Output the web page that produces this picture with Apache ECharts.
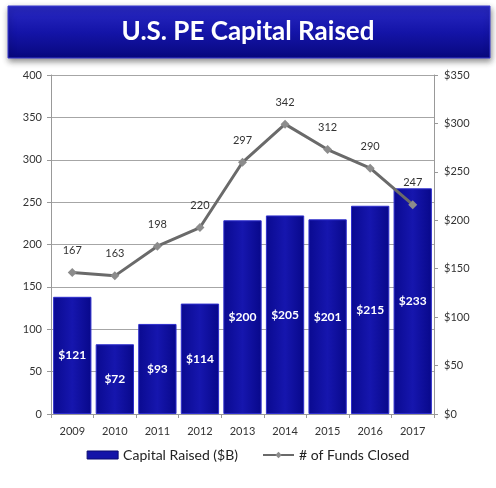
<!DOCTYPE html>
<html>
<head>
<meta charset="utf-8">
<script src="https://cdn.jsdelivr.net/npm/echarts@6/dist/echarts.min.js"></script>
<style>html,body{margin:0;padding:0;background:#fff;}#c{width:496px;height:488px;}</style>
</head>
<body>
<div id="c"></div>
<script>
const years = ['2009','2010','2011','2012','2013','2014','2015','2016','2017'];
const capitalRaised = [121, 72, 93, 114, 200, 205, 201, 215, 233];
const fundsClosed = [167, 163, 198, 220, 297, 342, 312, 290, 247];
const titleText = 'U.S. PE Capital Raised';
const seriesNames = ['Capital Raised ($B)', '# of Funds Closed'];

const chart = echarts.init(document.getElementById('c'));
const font = 'Lato, "Open Sans", sans-serif';
chart.setOption({
  animation: false,
  backgroundColor: '#fff',
  textStyle: { fontFamily: font },
  title: {
    text: titleText,
    left: 'center',
    top: 14,
    textStyle: { color: '#fff', fontSize: 26, fontWeight: 'bold', fontFamily: font }
  },
  graphic: [{
    type: 'rect',
    z: -1,
    shape: { x: 8, y: 6, width: 482, height: 52 },
    style: {
      fill: new echarts.graphic.LinearGradient(0, 0, 0, 1, [
        { offset: 0, color: '#2a2ac4' },
        { offset: 0.5, color: '#1414a8' },
        { offset: 1, color: '#08087e' }
      ]),
      stroke: '#3a3ad0',
      lineWidth: 1,
      shadowBlur: 6,
      shadowOffsetY: 3,
      shadowOffsetX: 1,
      shadowColor: 'rgba(0,0,0,0.45)'
    }
  }],
  legend: {
    bottom: 21,
    left: 'center',
    itemGap: 24,
    textStyle: { fontSize: 14, color: '#222', fontFamily: font },
    data: [
      { name: seriesNames[0], icon: 'rect', itemStyle: { color: '#1414a8', borderColor: '#0a0a70', borderWidth: 1 } },
      { name: seriesNames[1] }
    ],
    itemWidth: 31,
    itemHeight: 8
  },
  grid: { left: 51, right: 62, top: 75, bottom: 74 },
  xAxis: {
    type: 'category',
    data: years,
    axisLine: { lineStyle: { color: '#999' } },
    axisTick: { show: true, length: 4, lineStyle: { color: '#999' } },
    axisLabel: { color: '#333', fontSize: 11, margin: 12 }
  },
  yAxis: [{
    type: 'value',
    min: 0, max: 400, interval: 50,
    position: 'left',
    axisLine: { show: true, lineStyle: { color: '#999' } },
    axisTick: { show: true, length: 4, lineStyle: { color: '#999' } },
    axisLabel: { color: '#333', fontSize: 11, margin: 9 },
    splitLine: { show: true, lineStyle: { color: '#a6a6a6', width: 1 } }
  }, {
    type: 'value',
    min: 0, max: 350, interval: 50,
    position: 'right',
    axisLine: { show: true, lineStyle: { color: '#999' } },
    axisTick: { show: true, length: 4, lineStyle: { color: '#999' } },
    axisLabel: { color: '#333', fontSize: 11, margin: 10, formatter: v => '$' + v },
    splitLine: { show: false }
  }],
  series: [{
    name: seriesNames[0],
    type: 'bar',
    yAxisIndex: 1,
    data: capitalRaised,
    barCategoryGap: '10%',
    itemStyle: {
      color: new echarts.graphic.LinearGradient(0, 0, 1, 0, [
        { offset: 0, color: '#0a0a90' },
        { offset: 0.5, color: '#1616ae' },
        { offset: 1, color: '#08088a' }
      ]),
      borderColor: '#2e2ecc',
      borderWidth: 1
    },
    label: {
      show: true,
      position: 'inside',
      color: '#fff',
      fontWeight: 'bold',
      fontSize: 12,
      formatter: p => '$' + p.value
    },
    z: 2
  }, {
    name: seriesNames[1],
    type: 'line',
    yAxisIndex: 0,
    data: fundsClosed,
    symbol: 'diamond',
    symbolSize: 9,
    lineStyle: { color: '#6a6a6a', width: 3 },
    itemStyle: { color: '#8c8c8c' },
    label: { show: true, position: 'top', distance: 12, color: '#333', fontSize: 11 },
    z: 3
  }]
});
</script>
</body>
</html>
